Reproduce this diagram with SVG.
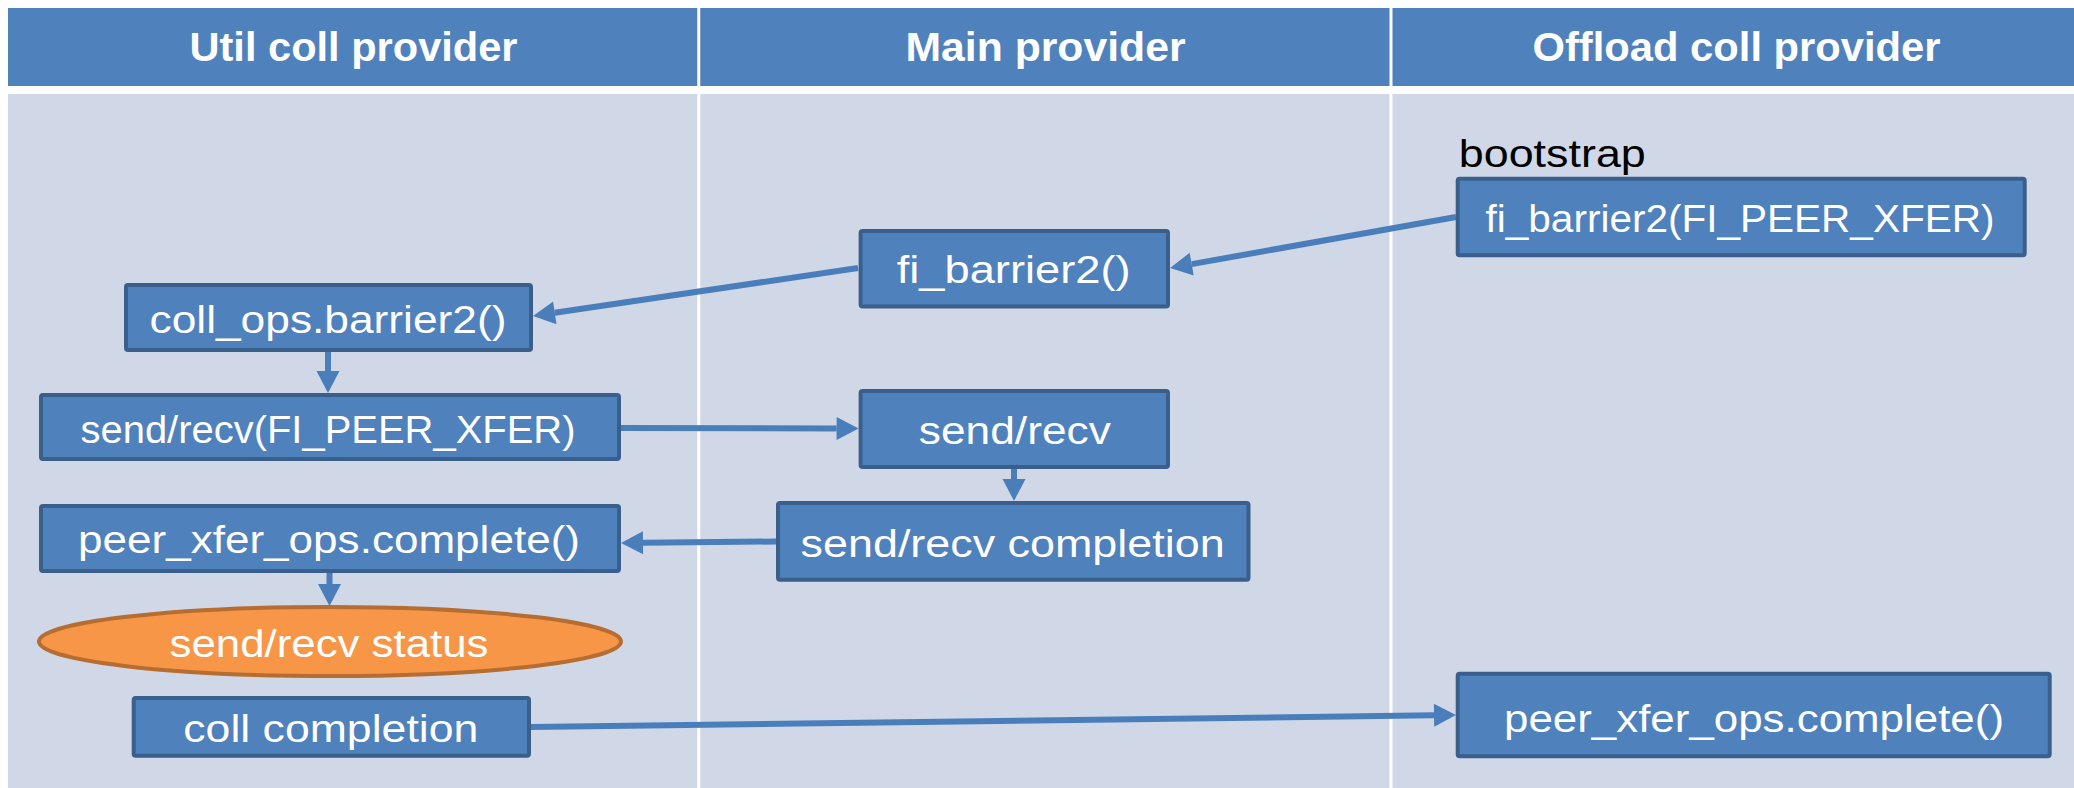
<svg xmlns="http://www.w3.org/2000/svg" width="2074" height="788" viewBox="0 0 2074 788">
  <defs>
    <style>
      .band { fill: #4F81BD; }
      .lane { fill: #D0D8E8; }
      .sep { stroke: #FFFFFF; stroke-width: 3; }
      .head { font-family: "Liberation Sans", Arial, sans-serif; font-weight: bold; font-size: 41px; fill: #FFFFFF; text-anchor: middle; }
      .box { fill: #4F81BD; stroke: #3A5F8C; stroke-width: 4; }
      .oval { fill: #F79646; stroke: #B66D31; stroke-width: 4; }
      .label { font-family: "Liberation Sans", Arial, sans-serif; font-size: 38px; fill: #FFFFFF; text-anchor: middle; }
      .note { font-family: "Liberation Sans", Arial, sans-serif; font-size: 38px; fill: #000000; }
      .wire { stroke: #4A7EBB; stroke-width: 6; fill: none; marker-end: url(#head); }
    </style>
    <marker id="head" markerUnits="userSpaceOnUse" markerWidth="24" markerHeight="24" refX="0" refY="11.5" orient="auto" overflow="visible">
      <path d="M0,0 L22,11.5 L0,23 Z" fill="#4A7EBB"/>
    </marker>
  </defs>

  <rect x="0" y="0" width="2074" height="788" fill="#FFFFFF"/>

  <!-- swimlane header and bodies -->
  <g id="lanes">
    <rect class="band" x="8" y="8" width="2066" height="78"/>
    <rect class="lane" x="8" y="94" width="2066" height="694"/>
    <line class="sep" x1="698.75" y1="8" x2="698.75" y2="788"/>
    <line class="sep" x1="1391" y1="8" x2="1391" y2="788"/>
    <text class="head" x="353.5" y="61" textLength="328" lengthAdjust="spacingAndGlyphs">Util coll provider</text>
    <text class="head" x="1045.5" y="61" textLength="280" lengthAdjust="spacingAndGlyphs">Main provider</text>
    <text class="head" x="1736.5" y="61" textLength="408" lengthAdjust="spacingAndGlyphs">Offload coll provider</text>
  </g>

  <!-- connectors -->
  <g id="connectors">
    <line class="wire" x1="1456" y1="217" x2="1191.7" y2="264.1"/>
    <line class="wire" x1="858" y1="268" x2="554.8" y2="312.8"/>
    <line class="wire" x1="328" y1="352" x2="328" y2="371"/>
    <line class="wire" x1="621" y1="428" x2="836.6" y2="428.5"/>
    <line class="wire" x1="1014" y1="469" x2="1014" y2="479"/>
    <line class="wire" x1="776" y1="541.5" x2="643" y2="542.8"/>
    <line class="wire" x1="329.5" y1="573" x2="329.5" y2="584"/>
    <line class="wire" x1="531" y1="727" x2="1434" y2="715.3"/>
  </g>

  <!-- offload coll provider -->
  <g id="bootstrap-label">
    <text class="note" x="1458.8" y="166.7" textLength="187" lengthAdjust="spacingAndGlyphs">bootstrap</text>
  </g>
  <g id="offload-barrier">
    <rect class="box" x="1457.7" y="178.7" width="567" height="76.6" rx="2"/>
    <text class="label" x="1740" y="231.7" textLength="509" lengthAdjust="spacingAndGlyphs">fi_barrier2(FI_PEER_XFER)</text>
  </g>
  <g id="offload-complete">
    <rect class="box" x="1457.7" y="673.7" width="592" height="82.6" rx="2"/>
    <text class="label" x="1754" y="731.7" textLength="500" lengthAdjust="spacingAndGlyphs">peer_xfer_ops.complete()</text>
  </g>

  <!-- main provider -->
  <g id="main-barrier">
    <rect class="box" x="860.6" y="231" width="307.4" height="75.5" rx="2"/>
    <text class="label" x="1013.7" y="283" textLength="234" lengthAdjust="spacingAndGlyphs">fi_barrier2()</text>
  </g>
  <g id="main-sendrecv">
    <rect class="box" x="860.6" y="391" width="307.4" height="76" rx="2"/>
    <text class="label" x="1014.8" y="444" textLength="192" lengthAdjust="spacingAndGlyphs">send/recv</text>
  </g>
  <g id="main-completion">
    <rect class="box" x="778" y="503" width="470.5" height="76.7" rx="2"/>
    <text class="label" x="1012.6" y="557" textLength="424" lengthAdjust="spacingAndGlyphs">send/recv completion</text>
  </g>

  <!-- util coll provider -->
  <g id="util-barrier">
    <rect class="box" x="126" y="285" width="405" height="65" rx="2"/>
    <text class="label" x="328" y="333" textLength="357" lengthAdjust="spacingAndGlyphs">coll_ops.barrier2()</text>
  </g>
  <g id="util-sendrecv">
    <rect class="box" x="41" y="395" width="578" height="64" rx="2"/>
    <text class="label" x="328" y="443" textLength="495" lengthAdjust="spacingAndGlyphs">send/recv(FI_PEER_XFER)</text>
  </g>
  <g id="util-peer-complete">
    <rect class="box" x="41" y="506" width="578" height="65" rx="2"/>
    <text class="label" x="329" y="553" textLength="502" lengthAdjust="spacingAndGlyphs">peer_xfer_ops.complete()</text>
  </g>
  <g id="util-status">
    <ellipse class="oval" cx="330" cy="641.5" rx="291" ry="34.5"/>
    <text class="label" x="329" y="657" textLength="319" lengthAdjust="spacingAndGlyphs">send/recv status</text>
  </g>
  <g id="util-completion">
    <rect class="box" x="133.7" y="698" width="395.3" height="57.7" rx="2"/>
    <text class="label" x="330.8" y="742" textLength="295" lengthAdjust="spacingAndGlyphs">coll completion</text>
  </g>
</svg>
